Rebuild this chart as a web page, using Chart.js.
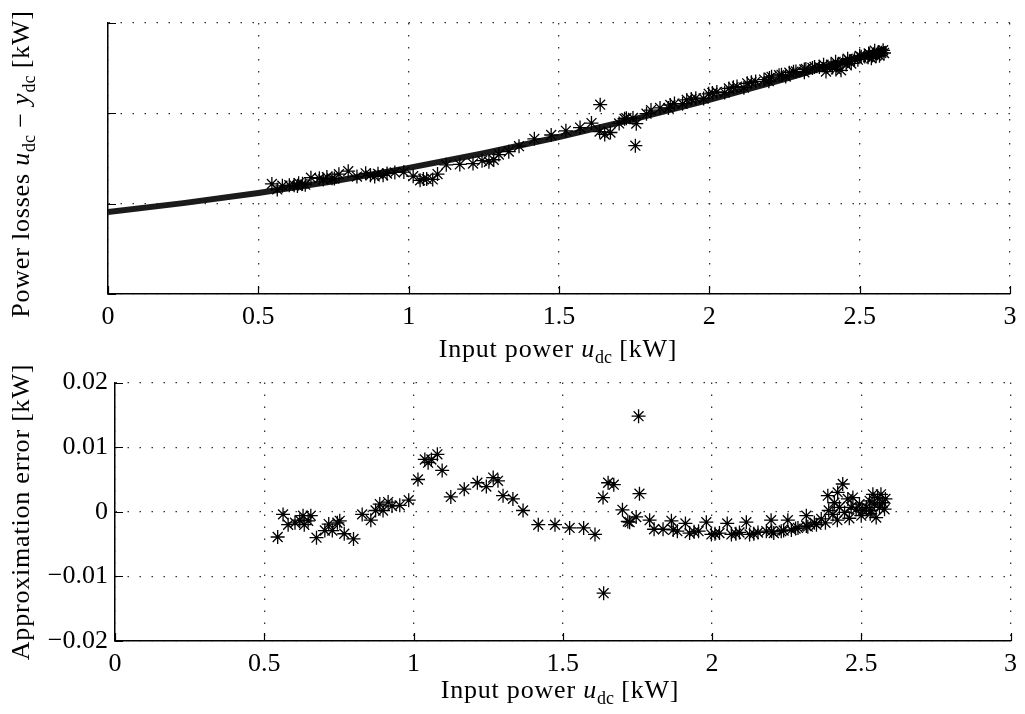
<!DOCTYPE html>
<html>
<head>
<meta charset="utf-8">
<script src="https://cdn.jsdelivr.net/npm/chart.js@4.4.1/dist/chart.umd.min.js"></script>
<style>
  body { margin: 0; background: #fff; font-family: "Liberation Serif", serif; color: #000; }
  .wrap { position: relative; width: 1025px; height: 714px; overflow: hidden; }
  .panel { position: absolute; left: 0; width: 1025px; height: 330px; }
  .title { position: absolute; white-space: nowrap; font-size: 26px; letter-spacing: 0.8px; transform: translate(-50%, -50%); }
  .title.rot { transform: translate(-50%, -50%) rotate(-90deg); }
  .title sub { font-size: 18px; vertical-align: -6px; line-height: 0; letter-spacing: 0; }
</style>
</head>
<body>
<div class="wrap">
  <div class="panel" style="top:0"><canvas id="lossChart" width="1025" height="330"></canvas></div>
  <div class="panel" style="top:360px"><canvas id="errorChart" width="1025" height="330"></canvas></div>

  <div class="title rot" style="left:21px; top:164px">Power losses <i>u</i><sub>dc</sub> − <i>y</i><sub>dc</sub> [kW]</div>
  <div class="title" style="left:558px; top:349px">Input power <i>u</i><sub>dc</sub> [kW]</div>
  <div class="title rot" style="left:21px; top:512px">Approximation error [kW]</div>
  <div class="title" style="left:560px; top:690px">Input power <i>u</i><sub>dc</sub> [kW]</div>
</div>

<script>
// measured operating points (input power, kW)
const inputPower = [
  0.545, 0.563, 0.580, 0.603, 0.619, 0.630, 0.634, 0.647, 0.656, 0.675,
  0.703, 0.716, 0.728, 0.745, 0.753, 0.768, 0.799, 0.828, 0.857, 0.873,
  0.887, 0.898, 0.915, 0.928, 0.954, 0.984, 1.015, 1.038, 1.049, 1.060,
  1.080, 1.096, 1.125, 1.170, 1.214, 1.244, 1.267, 1.283, 1.300, 1.333,
  1.367, 1.418, 1.474, 1.523, 1.570, 1.608, 1.635, 1.637, 1.652, 1.671,
  1.700, 1.718, 1.724, 1.746, 1.754, 1.757, 1.791, 1.806, 1.836, 1.864,
  1.870, 1.884, 1.911, 1.925, 1.940, 1.955, 1.981, 1.998, 2.010, 2.025,
  2.051, 2.065, 2.080, 2.092, 2.115, 2.126, 2.140, 2.154, 2.182, 2.198,
  2.200, 2.207, 2.232, 2.240, 2.254, 2.266, 2.280, 2.288, 2.316, 2.316,
  2.321, 2.343, 2.350, 2.366, 2.380, 2.388, 2.391, 2.405, 2.410, 2.420,
  2.421, 2.427, 2.438, 2.444, 2.455, 2.460, 2.466, 2.472, 2.483, 2.494,
  2.500, 2.505, 2.517, 2.528, 2.530, 2.533, 2.539, 2.544, 2.550, 2.555,
  2.561, 2.566, 2.572, 2.578, 2.581
];

// measured losses u_dc - y_dc (kW)
const powerLoss = [
  0.0609, 0.0579, 0.0599, 0.0602, 0.0602, 0.0598, 0.0613, 0.0610, 0.0605, 0.0644,
  0.0640, 0.0634, 0.0647, 0.0640, 0.0639, 0.0663, 0.0680, 0.0650, 0.0668, 0.0657,
  0.0651, 0.0665, 0.0657, 0.0667, 0.0673, 0.0675, 0.0652, 0.0629, 0.0637, 0.0636,
  0.0634, 0.0664, 0.0715, 0.0717, 0.0722, 0.0738, 0.0732, 0.0743, 0.0772, 0.0788,
  0.0818, 0.0859, 0.0880, 0.0903, 0.0921, 0.0946, 0.0899, 0.1048, 0.0883, 0.0894,
  0.0944, 0.0970, 0.0973, 0.0974, 0.0821, 0.0943, 0.0998, 0.1018, 0.1030, 0.1029,
  0.1046, 0.1054, 0.1053, 0.1074, 0.1079, 0.1084, 0.1082, 0.1108, 0.1113, 0.1118,
  0.1115, 0.1138, 0.1144, 0.1148, 0.1142, 0.1166, 0.1172, 0.1176, 0.1187, 0.1178,
  0.1196, 0.1202, 0.1211, 0.1213, 0.1204, 0.1225, 0.1230, 0.1232, 0.1227, 0.1243,
  0.1246, 0.1251, 0.1257, 0.1256, 0.1269, 0.1231, 0.1256, 0.1269, 0.1253, 0.1285,
  0.1243, 0.1269, 0.1238, 0.1285, 0.1270, 0.1302, 0.1288, 0.1276, 0.1300, 0.1297,
  0.1318, 0.1313, 0.1314, 0.1310, 0.1331, 0.1327, 0.1305, 0.1323, 0.1347, 0.1319,
  0.1337, 0.1319, 0.1335, 0.1349, 0.1334
];

// approximation error (kW)
const approxError = [
  -0.0039, -0.0004, -0.0020, -0.0017, -0.0013, -0.0006, -0.0020, -0.0014, -0.0006, -0.0040,
  -0.0029, -0.0019, -0.0029, -0.0017, -0.0014, -0.0034, -0.0042, -0.0004, -0.0013, 0.0002,
  0.0012, 0.0002, 0.0015, 0.0009, 0.0010, 0.0018, 0.0050, 0.0081, 0.0076, 0.0081,
  0.0089, 0.0064, 0.0023, 0.0035, 0.0045, 0.0039, 0.0053, 0.0048, 0.0025, 0.0020,
  0.0002, -0.0020, -0.0020, -0.0025, -0.0025, -0.0035, 0.0022, -0.0126, 0.0045, 0.0042,
  0.0003, -0.0015, -0.0016, -0.0008, 0.0148, 0.0028, -0.0013, -0.0027, -0.0027, -0.0014,
  -0.0028, -0.0030, -0.0018, -0.0033, -0.0031, -0.0030, -0.0016, -0.0035, -0.0034, -0.0033,
  -0.0018, -0.0035, -0.0034, -0.0032, -0.0016, -0.0035, -0.0034, -0.0032, -0.0030, -0.0013,
  -0.0030, -0.0033, -0.0030, -0.0029, -0.0013, -0.0028, -0.0026, -0.0025, -0.0006, -0.0022,
  -0.0023, -0.0017, -0.0020, -0.0011, -0.0017, 0.0025, 0.0002, -0.0004, 0.0014, -0.0013,
  0.0030, 0.0007, 0.0043, -0.0001, 0.0020, -0.0010, 0.0007, 0.0022, 0.0004, 0.0012,
  -0.0006, 0.0002, 0.0007, 0.0017, -0.0003, 0.0002, 0.0027, 0.0012, -0.0009, 0.0022,
  0.0007, 0.0027, 0.0014, 0.0004, 0.0020
];

// fitted loss curve
const fitInput = [0, 0.25, 0.5, 0.75, 1, 1.25, 1.5, 1.75, 2, 2.25, 2.5, 2.59];
const fitLoss = [0.0454, 0.0503, 0.0559, 0.0624, 0.0698, 0.0779, 0.0869, 0.0968, 0.1074, 0.1189, 0.1312, 0.1358];

// tick values
const xTicks = [0, 0.5, 1, 1.5, 2, 2.5, 3];
const lossTicks = [0, 0.05, 0.1, 0.15];
const errorTicks = [-0.02, -0.01, 0, 0.01, 0.02];

const tickFont = { family: '"Liberation Serif", serif', size: 26 };

function toPoints(xs, ys) {
  return xs.map((x, i) => ({ x: x, y: ys[i] }));
}

function fmtX(v) {
  return String(Math.round(v * 10) / 10);
}

function fmtErr(v) {
  const r = Math.round(v * 100) / 100;
  if (r === 0) return '0';
  return (r < 0 ? '\u2212' : '') + Math.abs(r).toFixed(2);
}

// MATLAB style: short tick marks pointing into the plot
const innerTicks = {
  id: 'innerTicks',
  afterDraw(chart) {
    const ctx = chart.ctx;
    const area = chart.chartArea;
    const xs = chart.scales.x, ys = chart.scales.y;
    ctx.save();
    ctx.strokeStyle = '#000';
    ctx.lineWidth = 1.2;
    ctx.beginPath();
    xs.ticks.forEach(t => {
      const px = Math.round(xs.getPixelForValue(t.value)) + 0.5;
      ctx.moveTo(px, area.bottom);
      ctx.lineTo(px, area.bottom - 8);
    });
    ys.ticks.forEach(t => {
      const py = Math.round(ys.getPixelForValue(t.value)) + 0.5;
      ctx.moveTo(area.left, py);
      ctx.lineTo(area.left + 8, py);
    });
    ctx.stroke();
    ctx.restore();
  }
};

const gridOpts = { color: '#333', lineWidth: 1.3, drawTicks: false };
// in v4 border.dash sets the dash of the grid lines, the axis line stays solid
const borderOpts = { display: true, color: '#000', width: 1.5, dash: [1.5, 10.5] };

function xScale(values, axisHeight, pad) {
  return {
    type: 'linear',
    min: 0, max: 3,
    afterBuildTicks: s => { s.ticks = values.map(v => ({ value: v })); },
    afterFit: s => { s.height = axisHeight; },
    grid: gridOpts,
    border: borderOpts,
    ticks: { font: tickFont, color: '#000', padding: pad, maxRotation: 0, callback: v => fmtX(v) }
  };
}

const starStyle = {
  pointStyle: 'star',
  pointRadius: 7,
  pointBorderColor: '#000',
  pointBorderWidth: 1.3,
  pointBackgroundColor: '#000',
  showLine: false
};

// top: power losses
new Chart(document.getElementById('lossChart'), {
  type: 'scatter',
  data: {
    datasets: [
      Object.assign({ label: 'measured', data: toPoints(inputPower, powerLoss) }, starStyle),
      {
        label: 'fit',
        data: toPoints(fitInput, fitLoss),
        showLine: true,
        borderColor: '#1b1b1b',
        borderWidth: 6,
        pointRadius: 0,
        tension: 0
      }
    ]
  },
  options: {
    responsive: false,
    animation: false,
    devicePixelRatio: 1,
    layout: { padding: { top: 23, right: 15, left: 0, bottom: 0 } },
    plugins: { legend: { display: false }, tooltip: { enabled: false } },
    scales: {
      x: xScale(xTicks, 36, 8),
      y: {
        type: 'linear',
        min: 0, max: 0.15,
        afterBuildTicks: s => { s.ticks = lossTicks.map(v => ({ value: v })); },
        afterFit: s => { s.width = 108; },
        grid: gridOpts,
        border: borderOpts,
        ticks: { display: false }
      }
    }
  },
  plugins: [innerTicks]
});

// bottom: approximation error
new Chart(document.getElementById('errorChart'), {
  type: 'scatter',
  data: {
    datasets: [
      Object.assign({ label: 'error', data: toPoints(inputPower, approxError) }, starStyle)
    ]
  },
  options: {
    responsive: false,
    animation: false,
    devicePixelRatio: 1,
    layout: { padding: { top: 22, right: 14, left: 0, bottom: 0 } },
    plugins: { legend: { display: false }, tooltip: { enabled: false } },
    scales: {
      x: xScale(xTicks, 49, 8),
      y: {
        type: 'linear',
        min: -0.02, max: 0.02,
        afterBuildTicks: s => { s.ticks = errorTicks.map(v => ({ value: v })); },
        afterFit: s => { s.width = 115; },
        grid: gridOpts,
        border: borderOpts,
        ticks: { font: tickFont, color: '#000', padding: 7, callback: v => fmtErr(v) }
      }
    }
  },
  plugins: [innerTicks]
});
</script>
</body>
</html>
